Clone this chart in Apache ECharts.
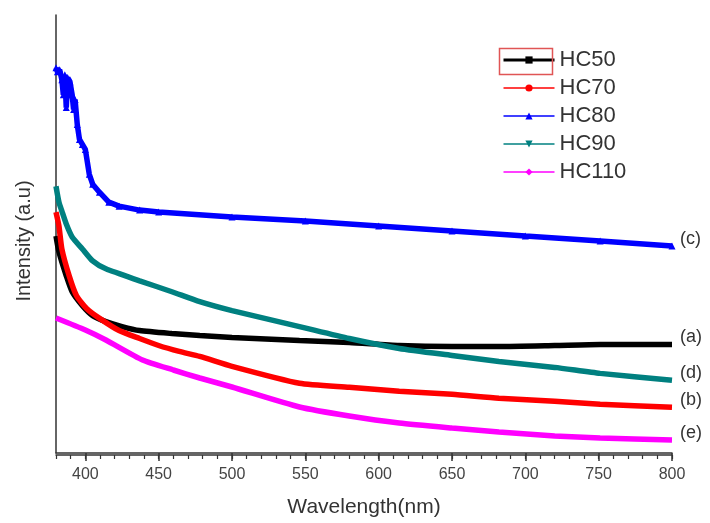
<!DOCTYPE html>
<html>
<head>
<meta charset="utf-8">
<script src="https://cdn.jsdelivr.net/npm/echarts@6/dist/echarts.min.js"></script>
<style>
html, body { margin: 0; padding: 0; background: #fff; }
#main { width: 710px; height: 523px; }
</style>
</head>
<body>
<div id="main"></div>
<script>
// wavelength (nm) and intensity (a.u.)
var hc50 = [[380, 2.18], [382, 2.02], [387, 1.78], [391, 1.62], [398, 1.48], [405, 1.38], [414, 1.32], [425, 1.27], [437, 1.23], [459, 1.20], [478, 1.18], [500, 1.16], [546, 1.13], [580, 1.11], [614, 1.08], [650, 1.07], [682, 1.07], [720, 1.08], [751, 1.09], [800, 1.09]];
var hc70 = [[380, 2.42], [382, 2.28], [384, 2.05], [389, 1.78], [394, 1.58], [401, 1.45], [410, 1.35], [423, 1.23], [437, 1.15], [450, 1.08], [464, 1.02], [478, 0.97], [500, 0.87], [546, 0.70], [580, 0.66], [614, 0.62], [650, 0.59], [682, 0.55], [720, 0.52], [751, 0.49], [800, 0.46]];
var hc80 = [[380, 3.87], [381, 3.83], [382.5, 3.85], [384, 3.75], [385, 3.60], [386, 3.80], [387, 3.47], [388, 3.77], [389.5, 3.73], [391, 3.60], [392, 3.45], [393, 3.55], [394.5, 3.30], [396, 3.15], [398, 3.10], [400, 3.05], [402.7, 2.80], [405, 2.70], [409.6, 2.62], [416, 2.52], [423, 2.48], [437, 2.44], [450, 2.42], [500, 2.37], [550, 2.33], [600, 2.28], [650, 2.23], [700, 2.18], [751, 2.13], [800, 2.08]];
var hc90 = [[380, 2.68], [382, 2.52], [384, 2.43], [387, 2.30], [391, 2.17], [398, 2.05], [405, 1.93], [414, 1.85], [437, 1.73], [459, 1.62], [478, 1.52], [500, 1.43], [546, 1.27], [580, 1.15], [614, 1.05], [650, 0.98], [682, 0.92], [720, 0.86], [751, 0.80], [800, 0.73]];
var hc110 = [[380, 1.37], [400, 1.25], [414, 1.15], [439, 0.95], [460, 0.85], [478, 0.77], [500, 0.68], [546, 0.48], [580, 0.39], [614, 0.32], [650, 0.27], [682, 0.23], [720, 0.19], [751, 0.17], [800, 0.15]];

var endTags = ['(a)', '(b)', '(c)', '(d)', '(e)'];
var majorTicks = [400, 450, 500, 550, 600, 650, 700, 750, 800];

var chart = echarts.init(document.getElementById('main'));

function makeSeries(name, data, color, symbol, rotate, tag, smooth, showSym) {
    return {
        name: name,
        type: 'line',
        data: data,
        smooth: smooth,
        symbol: symbol,
        symbolRotate: rotate,
        symbolSize: 7,
        showSymbol: showSym,
        color: color,
        itemStyle: { color: color },
        lineStyle: { color: color, width: 5.5 },
        animation: false,
        endLabel: {
            show: true,
            formatter: tag,
            distance: 8,
            offset: [0, -7],
            color: '#333',
            fontSize: 18,
            fontFamily: 'Liberation Sans'
        }
    };
}

var s110 = makeSeries('HC110', hc110, '#ff00ff', 'diamond', 0, endTags[4], 0.2, false);
s110.xAxisIndex = 1;
s110.yAxisIndex = 1;

var option = {
    backgroundColor: '#fff',
    // two grids on the same spot: the second one only carries the minor ticks
    grid: [
        { left: 56, right: 38, top: 15, bottom: 68 },
        { left: 56, right: 38, top: 15, bottom: 68 }
    ],
    legend: {
        orient: 'vertical',
        left: 497,
        top: 44,
        itemWidth: 51,
        itemHeight: 9,
        itemGap: 6,
        textStyle: { fontSize: 22, color: '#333', fontFamily: 'Liberation Sans' },
        data: [
            { name: 'HC50', lineStyle: { width: 3 } },
            { name: 'HC70', lineStyle: { width: 1.5 } },
            { name: 'HC80', lineStyle: { width: 1.5 } },
            { name: 'HC90', lineStyle: { width: 1.5 } },
            { name: 'HC110', lineStyle: { width: 1.5 } }
        ]
    },
    // red frame round the first legend entry
    graphic: [{
        type: 'rect',
        left: 497,
        top: 46,
        shape: { width: 53, height: 26 },
        style: { fill: 'none', stroke: '#e05555', lineWidth: 1.5 },
        z: 100
    }],
    xAxis: [{
        type: 'value',
        gridIndex: 0,
        min: 380,
        max: 800,
        name: 'Wavelength(nm)',
        nameLocation: 'middle',
        nameGap: 44,
        nameTextStyle: { fontSize: 21, color: '#333', fontFamily: 'Liberation Sans' },
        axisLine: { lineStyle: { color: '#333', width: 1.5 } },
        axisTick: { show: true, length: 8, customValues: majorTicks, lineStyle: { color: '#333', width: 1.5 } },
        axisLabel: { customValues: majorTicks, margin: 14, fontSize: 16, color: '#444', fontFamily: 'Liberation Sans' },
        splitLine: { show: false }
    }, {
        type: 'value',
        gridIndex: 1,
        min: 380,
        max: 800,
        interval: 10,
        position: 'bottom',
        axisLine: { show: true, lineStyle: { color: '#333', width: 1.5 } },
        axisTick: { show: true, length: 4, lineStyle: { color: '#333', width: 1.2 } },
        axisLabel: { show: false },
        splitLine: { show: false }
    }],
    yAxis: [{
        type: 'value',
        gridIndex: 0,
        min: 0,
        max: 4.4,
        name: 'Intensity (a.u)',
        nameLocation: 'middle',
        nameGap: 22,
        nameTextStyle: { fontSize: 20, color: '#333', fontFamily: 'Liberation Sans', padding: [0, 14, 0, 0] },
        axisLine: { show: true, lineStyle: { color: '#333', width: 1.5 } },
        axisTick: { show: false },
        axisLabel: { show: false },
        splitLine: { show: false }
    }, {
        type: 'value',
        gridIndex: 1,
        min: 0,
        max: 4.4,
        show: false
    }],
    series: [
        makeSeries('HC50', hc50, '#000000', 'rect', 0, endTags[0], 0.2, false),
        makeSeries('HC70', hc70, '#ff0000', 'circle', 0, endTags[1], 0.2, false),
        makeSeries('HC80', hc80, '#0000ff', 'triangle', 0, endTags[2], false, true),
        makeSeries('HC90', hc90, '#008080', 'triangle', 180, endTags[3], 0.2, false),
        s110
    ]
};
chart.setOption(option);
</script>
</body>
</html>
